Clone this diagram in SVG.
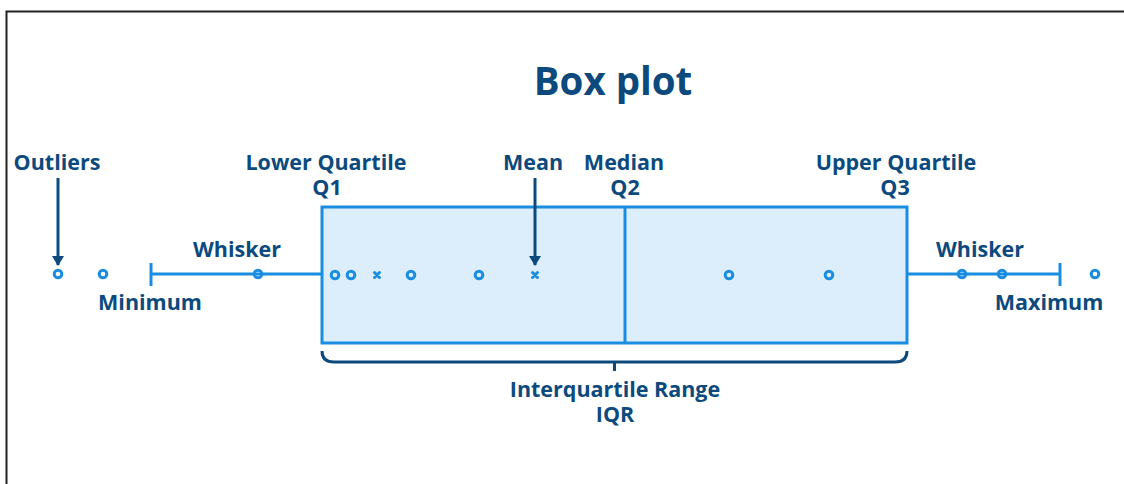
<svg xmlns="http://www.w3.org/2000/svg" width="1124" height="484" viewBox="0 0 1124 484">
  <style>
    .lbl { font-family: "Open Sans", "Noto Sans", sans-serif; font-weight: 700; font-size: 21.5px; fill: #0c4a7e; text-anchor: middle; }
    .title { font-size: 38.5px; }
    .pt { fill: none; stroke: #1a8de0; stroke-width: 3; }
    .wh { stroke: #1a8de0; stroke-width: 3; fill: none; }
    .arrow { stroke: #0c4a7e; stroke-width: 3; fill: none; }
    .mark { stroke: #1a8de0; stroke-width: 3; stroke-linecap: round; }
  </style>
  <defs>
    <marker id="head" markerWidth="10" markerHeight="12" refX="9" refY="6" orient="auto" markerUnits="userSpaceOnUse" viewBox="0 0 10 12">
      <path d="M0,0 L10,6 L0,12 Z" fill="#0c4a7e"/>
    </marker>
  </defs>
  <rect width="1124" height="484" fill="#ffffff"/>
  <!-- frame -->
  <path d="M6.5,484 V11.5 H1124" fill="none" stroke="#222" stroke-width="2"/>

  <text class="lbl title" x="613" y="95">Box plot</text>

  <!-- box -->
  <g id="box">
    <rect x="322" y="207" width="585" height="136" fill="#dcedfc" stroke="#1a8de0" stroke-width="3"/>
    <line x1="625" y1="207" x2="625" y2="343" stroke="#1a8de0" stroke-width="3"/>
  </g>

  <!-- connectors: whiskers, arrows, brace -->
  <g id="connectors">
    <line class="wh" x1="151" y1="274" x2="322" y2="274"/>
    <line class="wh" x1="151" y1="263" x2="151" y2="286"/>
    <line class="wh" x1="907" y1="274" x2="1060" y2="274"/>
    <line class="wh" x1="1060" y1="263" x2="1060" y2="286"/>
    <line class="arrow" x1="58" y1="178" x2="58" y2="265" marker-end="url(#head)"/>
    <line class="arrow" x1="535" y1="178" x2="535" y2="265" marker-end="url(#head)"/>
    <path class="arrow" d="M322,351 Q322,362 334,362 H895 Q907,362 907,351 M614.5,362 V371"/>
  </g>

  <!-- data points -->
  <g id="points">
    <circle class="pt" cx="58" cy="274" r="3.8"/>
    <circle class="pt" cx="103" cy="274" r="3.8"/>
    <circle class="pt" cx="258" cy="274" r="3.8" fill="#fff"/>
    <circle class="pt" cx="335" cy="275" r="3.8"/>
    <circle class="pt" cx="351" cy="275" r="3.8"/>
    <circle class="pt" cx="411" cy="275" r="3.8"/>
    <circle class="pt" cx="479" cy="275" r="3.8"/>
    <circle class="pt" cx="729" cy="275" r="3.8"/>
    <circle class="pt" cx="829" cy="275" r="3.8"/>
    <circle class="pt" cx="962" cy="274" r="3.8" fill="#fff"/>
    <circle class="pt" cx="1002" cy="274" r="3.8" fill="#fff"/>
    <circle class="pt" cx="1095" cy="274" r="3.8"/>
    <path class="mark" d="M374.5,272.5 l5,5 m0,-5 l-5,5"/>
    <path class="mark" d="M532.5,272.5 l5,5 m0,-5 l-5,5"/>
  </g>

  <!-- labels -->
  <g id="outliers"><text class="lbl" x="57" y="170">Outliers</text></g>
  <g id="lower-quartile"><text class="lbl" x="326" y="170">Lower Quartile</text><text class="lbl" x="327" y="195">Q1</text></g>
  <g id="mean"><text class="lbl" x="533" y="170">Mean</text></g>
  <g id="median"><text class="lbl" x="624" y="170">Median</text><text class="lbl" x="625" y="195">Q2</text></g>
  <g id="upper-quartile"><text class="lbl" x="896" y="170">Upper Quartile</text><text class="lbl" x="895" y="195">Q3</text></g>
  <g id="whisker-left"><text class="lbl" x="237" y="257">Whisker</text></g>
  <g id="whisker-right"><text class="lbl" x="980" y="257">Whisker</text></g>
  <g id="minimum"><text class="lbl" x="150" y="310">Minimum</text></g>
  <g id="maximum"><text class="lbl" x="1049" y="310">Maximum</text></g>
  <g id="iqr"><text class="lbl" x="615" y="397">Interquartile Range</text><text class="lbl" x="615" y="422">IQR</text></g>
</svg>
